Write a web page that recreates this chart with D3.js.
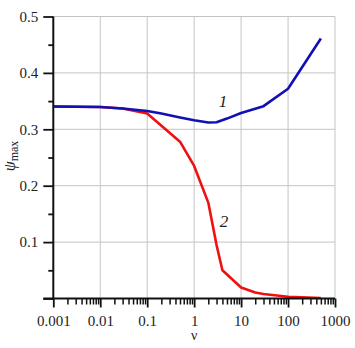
<!DOCTYPE html>
<html>
<head>
<meta charset="utf-8">
<script src="https://cdn.jsdelivr.net/npm/d3@7"></script>
<style>
  body { margin: 0; background: #fff; }
  svg text { font-family: "Liberation Serif", "Times New Roman", serif; fill: #222; }
</style>
</head>
<body>
<div id="chart"></div>
<script>
// values
const nu1 = [0.001, 0.01, 0.03, 0.1, 0.2, 0.5, 1, 2, 3, 5, 10, 30, 100, 500];
const psi1 = [0.3405, 0.3395, 0.337, 0.3325, 0.328, 0.321, 0.316, 0.312, 0.3125, 0.319, 0.329, 0.341, 0.372, 0.461];

const nu2 = [0.001, 0.01, 0.03, 0.1, 0.5, 1, 2, 3, 4, 10, 20, 30, 100, 500];
const psi2 = [0.3405, 0.3395, 0.337, 0.328, 0.278, 0.235, 0.170, 0.095, 0.05, 0.0195, 0.0105, 0.008, 0.003, 0.0008];

const xMajor = [0.001, 0.01, 0.1, 1, 10, 100, 1000];
const xMajorLabels = ["0.001", "0.01", "0.1", "1", "10", "100", "1000"];
const yMajor = [0, 0.1, 0.2, 0.3, 0.4, 0.5];
const yMajorLabels = ["", "0.1", "0.2", "0.3", "0.4", "0.5"];
const yMinor = [0.05, 0.15, 0.25, 0.35, 0.45];

const svgWidth = 355, svgHeight = 348;
const margin = {top: 16.5, right: 20, bottom: 49.5, left: 53.3};

const svg = d3.select("#chart").append("svg")
    .attr("width", svgWidth)
    .attr("height", svgHeight);

const x = d3.scaleLog()
    .domain([0.001, 1000])
    .range([margin.left, 335]);

const y = d3.scaleLinear()
    .domain([0, 0.5])
    .range([svgHeight - margin.bottom, margin.top]);

const xMinor = [];
xMajor.slice(0, -1).forEach(d => {
    for (let k = 2; k <= 9; k++) xMinor.push(d * k);
});

// grid
const grid = svg.append("g").attr("class", "grid");
grid.selectAll(".vgrid")
    .data(xMajor.slice(1))
    .enter().append("line")
    .attr("x1", d => x(d)).attr("x2", d => x(d))
    .attr("y1", y(0)).attr("y2", y(0.5))
    .attr("stroke", "#c4c4c4").attr("stroke-width", 1);
grid.selectAll(".hgrid")
    .data(yMajor.slice(1))
    .enter().append("line")
    .attr("x1", x(0.001)).attr("x2", x(1000))
    .attr("y1", d => y(d)).attr("y2", d => y(d))
    .attr("stroke", "#c4c4c4").attr("stroke-width", 1);

// curves
const line = d3.line()
    .x(d => x(d[0]))
    .y(d => y(d[1]));

svg.append("path")
    .datum(d3.zip(nu2, psi2))
    .attr("fill", "none")
    .attr("stroke", "#f01010")
    .attr("stroke-width", 2.6)
    .attr("stroke-linejoin", "round")
    .attr("d", line);

svg.append("path")
    .datum(d3.zip(nu1, psi1))
    .attr("fill", "none")
    .attr("stroke", "#1010b4")
    .attr("stroke-width", 2.6)
    .attr("stroke-linejoin", "round")
    .attr("d", line);

// x axis
svg.append("g")
    .attr("transform", `translate(0,${y(0)})`)
    .call(d3.axisBottom(x).tickValues(xMinor).tickSize(6).tickFormat(""))
    .call(g => g.select(".domain").remove())
    .call(g => g.selectAll("line").attr("stroke", "#111").attr("stroke-width", 1.5));

svg.append("g")
    .attr("class", "x-axis")
    .attr("transform", `translate(0,${y(0)})`)
    .call(d3.axisBottom(x).tickValues(xMajor).tickSize(9).tickFormat((d, i) => xMajorLabels[i]))
    .call(g => g.select(".domain").remove())
    .call(g => g.selectAll("line").attr("stroke", "#111").attr("stroke-width", 1.8))
    .call(g => g.selectAll("text").attr("y", 27).attr("dy", null)
        .style("font-size", "15px"));

// y axis
svg.append("g")
    .attr("transform", `translate(${x(0.001)},0)`)
    .call(d3.axisLeft(y).tickValues(yMinor).tickSize(5).tickFormat(""))
    .call(g => g.select(".domain").remove())
    .call(g => g.selectAll("line").attr("stroke", "#111").attr("stroke-width", 1.8));

svg.append("g")
    .attr("transform", `translate(${x(0.001)},0)`)
    .call(d3.axisLeft(y).tickValues(yMajor).tickSize(10).tickPadding(5).tickFormat((d, i) => yMajorLabels[i]))
    .call(g => g.select(".domain").remove())
    .call(g => g.selectAll("line").attr("stroke", "#111").attr("stroke-width", 1.8))
    .call(g => g.selectAll("text").style("font-size", "15px"));

// axis lines
svg.append("line")
    .attr("x1", x(0.001)).attr("x2", x(0.001))
    .attr("y1", y(0.5)).attr("y2", y(0))
    .attr("stroke", "#111").attr("stroke-width", 2);
svg.append("line")
    .attr("x1", x(0.001) - 10).attr("x2", x(1000))
    .attr("y1", y(0)).attr("y2", y(0))
    .attr("stroke", "#111").attr("stroke-width", 2);

// axis titles
svg.append("text")
    .attr("x", x(1))
    .attr("y", 340)
    .attr("text-anchor", "middle")
    .style("font-size", "14px")
    .text("ν");

const yTitle = svg.append("text")
    .attr("transform", "translate(15,156) rotate(-90)")
    .attr("text-anchor", "middle")
    .style("font-size", "16px");
yTitle.append("tspan").style("font-style", "italic").text("ψ");
yTitle.append("tspan").attr("dy", 3).style("font-size", "12px").text("max");

// curve labels
svg.append("text")
    .attr("x", x(4.1))
    .attr("y", 107)
    .attr("text-anchor", "middle")
    .style("font-size", "17px")
    .style("font-style", "italic")
    .text("1");

svg.append("text")
    .attr("x", x(4.3))
    .attr("y", 227)
    .attr("text-anchor", "middle")
    .style("font-size", "17px")
    .style("font-style", "italic")
    .text("2");
</script>
</body>
</html>
